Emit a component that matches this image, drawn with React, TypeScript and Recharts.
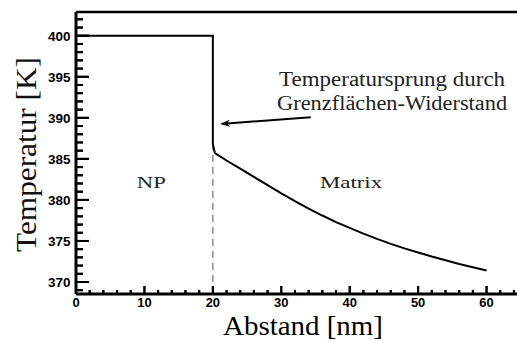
import React from "react";
import { LineChart, Line, XAxis, YAxis, ReferenceLine, ReferenceDot } from "recharts";

// Abstand [nm] and temperature [K]
const abstand = [0, 20, 20, 20.3, 22, 24, 26, 28, 30, 32, 34, 36, 38, 40, 42, 44, 46, 48, 50, 52, 54, 56, 58, 60];
const temperatur = [
  400, 400, 386.8, 385.7, 384.8, 383.8, 382.8, 381.8, 380.8, 379.85, 378.95, 378.1, 377.3, 376.6,
  375.9, 375.25, 374.65, 374.1, 373.6, 373.1, 372.65, 372.2, 371.8, 371.4,
];

const xTicks = [0, 2, 4, 6, 8, 10, 12, 14, 16, 18, 20, 22, 24, 26, 28, 30, 32, 34, 36, 38, 40, 42, 44, 46, 48, 50, 52, 54, 56, 58, 60, 62, 64];
const yTicks = [369, 370, 371, 372, 373, 374, 375, 376, 377, 378, 379, 380, 381, 382, 383, 384, 385, 386, 387, 388, 389, 390, 391, 392, 393, 394, 395, 396, 397, 398, 399, 400, 401, 402];

const xDomain = [0, 64.45];
const yDomain = [368.54, 402.89];

const interfaceX = 20;
const interfaceTop = 386.5;

const annotationLines = ["Temperatursprung durch", "Grenzflächen-Widerstand"];
const annotationX = 46.2;
const annotationY = [393.87, 390.95];
const arrowTail = { x: 34.3, y: 390.06 };
const arrowTip = { x: 21.05, y: 389.25 };

const regionLabels = ["NP", "Matrix"];
const regionX = [11.0, 40.2];
const regionY = 381.4;

const data = abstand.map((x, i) => ({ x, t: temperatur[i] }));

const SANS = "Liberation Sans, Arial, sans-serif";
const SERIF = "Liberation Serif, Times New Roman, serif";

// inward tick marks (pixels)
function yMark(v: number) {
  return (p: any) => (
    <rect x={p.cx} y={p.cy - 1} width={v % 5 === 0 ? 13 : 7} height={2} fill="#000" />
  );
}
function xMark(v: number) {
  return (p: any) => {
    const len = v % 10 === 0 ? 8 : 4;
    return <rect x={p.cx - 1} y={p.cy - len} width={2} height={len} fill="#000" />;
  };
}

function renderYTick(props: any) {
  const { x, y, payload } = props;
  const v = payload.value as number;
  const major = v % 5 === 0;
  const label = String(v);
  return (
    <g key={`yt-${v}`}>
      <rect x={x} y={y - 1} width={major ? 13 : 7} height={2} fill="#000" />
      {major && (
        <text x={x - 5.5} y={y + 5} textAnchor="end" fontFamily={SANS} fontWeight="bold" fontSize={12}
          textLength={label.length * 7.5} lengthAdjust="spacingAndGlyphs" fill="#000">
          {label}
        </text>
      )}
    </g>
  );
}

function renderXTick(props: any) {
  const { x, y, payload } = props;
  const v = payload.value as number;
  const major = v % 10 === 0;
  const len = major ? 8 : 4;
  const label = String(v);
  return (
    <g key={`xt-${v}`}>
      <rect x={x - 1} y={y - len} width={2} height={len} fill="#000" />
      {major && (
        <text x={x} y={y + 13} textAnchor="middle" fontFamily={SANS} fontWeight="bold" fontSize={12}
          textLength={label.length * 7.2} lengthAdjust="spacingAndGlyphs" fill="#000">
          {label}
        </text>
      )}
    </g>
  );
}

function Arrow(p: any) {
  const { x1, y1, x2, y2 } = p;
  const ang = Math.atan2(y2 - y1, x2 - x1);
  const len = 10;
  const half = 3.5;
  const bx = x2 - len * Math.cos(ang);
  const by = y2 - len * Math.sin(ang);
  const nx = -Math.sin(ang);
  const ny = Math.cos(ang);
  const ix = x2 - 0.7 * len * Math.cos(ang);
  const iy = y2 - 0.7 * len * Math.sin(ang);
  return (
    <g>
      <line x1={x1} y1={y1} x2={ix} y2={iy} stroke="#000" strokeWidth={2} />
      <polygon
        points={`${x2},${y2} ${bx + half * nx},${by + half * ny} ${ix},${iy} ${bx - half * nx},${by - half * ny}`}
        fill="#000"
      />
    </g>
  );
}

export default function App() {
  return (
    <div style={{ position: "absolute", left: 0, top: 0, width: 517, height: 342, background: "#fff" }}>
      <LineChart width={517} height={342} data={data} margin={{ top: 12, right: 0, bottom: 0, left: 0 }}>
        <XAxis
          dataKey="x"
          type="number"
          domain={xDomain}
          allowDataOverflow
          ticks={xTicks}
          interval={0}
          height={48}
          tickSize={0}
          tickMargin={0}
          tickLine={false}
          tick={renderXTick}
          axisLine={{ stroke: "#000", strokeWidth: 3 }}
          label={{
            content: (lp: any) => {
              const vb = lp.viewBox;
              return (
                <text x={vb.x + vb.width / 2 + 6.5} y={vb.y + 41} textAnchor="middle" fontFamily={SERIF}
                  fontSize={28} textLength={160} lengthAdjust="spacingAndGlyphs" fill="#000">
                  Abstand [nm]
                </text>
              );
            },
          }}
        />
        <YAxis
          type="number"
          domain={yDomain}
          allowDataOverflow
          ticks={yTicks}
          interval={0}
          width={76}
          tickSize={0}
          tickMargin={0}
          tickLine={false}
          tick={renderYTick}
          axisLine={{ stroke: "#000", strokeWidth: 3 }}
          label={{
            content: () => (
              <text transform="translate(36, 154.5) rotate(-90)" textAnchor="middle" fontFamily={SERIF}
                fontSize={29} textLength={195} lengthAdjust="spacingAndGlyphs" fill="#111">
                Temperatur [K]
              </text>
            ),
          }}
        />
        <ReferenceLine y={yDomain[1]} stroke="#000" strokeWidth={2.5} />
        {yTicks.map((v) => (
          <ReferenceDot key={`ym-${v}`} x={xDomain[0]} y={v} r={0} shape={yMark(v)} />
        ))}
        {xTicks.map((v) => (
          <ReferenceDot key={`xm-${v}`} x={v} y={yDomain[0]} r={0} shape={xMark(v)} />
        ))}
        <ReferenceLine
          segment={[{ x: interfaceX, y: yDomain[0] }, { x: interfaceX, y: interfaceTop }]}
          stroke="#8a8a8a"
          strokeWidth={1.5}
          strokeDasharray="7 5"
        />
        <Line dataKey="t" type="linear" stroke="#000" strokeWidth={2} dot={false} isAnimationActive={false} />
        <ReferenceLine segment={[arrowTail, arrowTip]} shape={<Arrow />} />
        {annotationLines.map((txt, i) => (
          <ReferenceDot
            key={txt}
            x={annotationX}
            y={annotationY[i]}
            r={0}
            shape={(p: any) => (
              <text x={p.cx} y={p.cy} textAnchor="middle" fontFamily={SERIF} fontSize={20}
                textLength={i === 0 ? 226 : 230} lengthAdjust="spacingAndGlyphs" fill="#222">
                {txt}
              </text>
            )}
          />
        ))}
        {regionLabels.map((txt, i) => (
          <ReferenceDot
            key={txt}
            x={regionX[i]}
            y={regionY}
            r={0}
            shape={(p: any) => (
              <text x={p.cx} y={p.cy} textAnchor="middle" fontFamily={SERIF} fontSize={17.5}
                textLength={i === 0 ? 29 : 62} lengthAdjust="spacingAndGlyphs" fill="#222">
                {txt}
              </text>
            )}
          />
        ))}
      </LineChart>
    </div>
  );
}
